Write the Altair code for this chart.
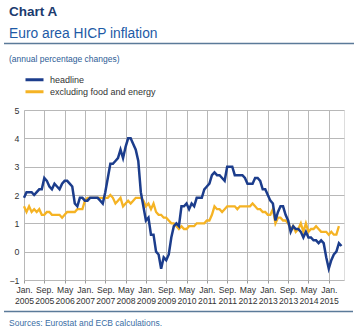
import altair as alt
import pandas as pd

# Monthly values, Jan 2005 onwards
headline = [
    1.9, 2.1, 2.1, 2.1, 2.0, 2.1, 2.2, 2.2, 2.6, 2.5, 2.3, 2.2,   # 2005
    2.4, 2.3, 2.2, 2.4, 2.5, 2.5, 2.4, 2.3, 1.7, 1.6, 1.9, 1.9,   # 2006
    1.8, 1.8, 1.9, 1.9, 1.9, 1.9, 1.8, 1.7, 2.1, 2.6, 3.1, 3.1,   # 2007
    3.2, 3.3, 3.6, 3.3, 3.7, 4.0, 4.0, 3.8, 3.6, 3.2, 2.1, 1.6,   # 2008
    1.1, 1.2, 0.6, 0.6, 0.0, -0.1, -0.6, -0.2, -0.3, -0.1, 0.5, 0.9,  # 2009
    1.0, 0.9, 1.6, 1.6, 1.7, 1.5, 1.7, 1.6, 1.9, 1.9, 1.9, 2.2,   # 2010
    2.3, 2.4, 2.7, 2.8, 2.7, 2.7, 2.6, 2.5, 3.0, 3.0, 3.0, 2.7,   # 2011
    2.7, 2.7, 2.7, 2.6, 2.4, 2.4, 2.4, 2.6, 2.6, 2.5, 2.2, 2.2,   # 2012
    2.0, 1.8, 1.7, 1.1, 1.4, 1.6, 1.6, 1.3, 1.1, 0.7, 0.9, 0.8,   # 2013
    0.8, 0.7, 0.5, 0.7, 0.5, 0.5, 0.4, 0.4, 0.3, 0.4, 0.3, -0.2,  # 2014
    -0.6, -0.3, -0.1, 0.0, 0.3, 0.2,                              # 2015
]
core = [
    1.6, 1.4, 1.6, 1.4, 1.5, 1.4, 1.5, 1.3, 1.3, 1.4, 1.4, 1.3,   # 2005
    1.3, 1.3, 1.3, 1.2, 1.3, 1.4, 1.4, 1.4, 1.4, 1.5, 1.5, 1.5,   # 2006
    1.8, 1.9, 1.9, 1.9, 1.9, 1.9, 1.9, 1.9, 1.9, 1.9, 2.0, 1.9,   # 2007
    1.7, 1.8, 1.9, 1.6, 1.7, 1.8, 1.7, 1.8, 1.9, 1.9, 1.9, 1.8,   # 2008
    1.6, 1.7, 1.5, 1.7, 1.4, 1.3, 1.3, 1.2, 1.2, 1.1, 1.0, 1.0,   # 2009
    0.9, 0.8, 0.9, 0.8, 0.8, 0.9, 0.9, 0.9, 1.0, 1.0, 1.0, 1.0,   # 2010
    1.1, 1.1, 1.3, 1.6, 1.5, 1.5, 1.4, 1.5, 1.6, 1.6, 1.6, 1.6,   # 2011
    1.5, 1.6, 1.6, 1.6, 1.6, 1.6, 1.7, 1.6, 1.5, 1.5, 1.4, 1.4,   # 2012
    1.3, 1.3, 1.5, 1.0, 1.2, 1.2, 1.1, 1.1, 1.0, 0.8, 0.9, 0.7,   # 2013
    0.8, 1.0, 0.7, 1.0, 0.7, 0.8, 0.8, 0.9, 0.8, 0.7, 0.7, 0.7,   # 2014
    0.6, 0.7, 0.6, 0.6, 0.9,                                      # 2015
]
series_names = ["headline", "excluding food and energy"]
series_colors = ["#1c3d8c", "#f5b324"]
x_ticks = list(range(0, 121, 8))       # month index: Jan. 2005, Sep. 2005, ...
y_ticks = [-1, 0, 1, 2, 3, 4, 5]
x_domain = [0, 126]
y_domain = [-1, 5]

title_text = "Chart A"
subtitle_text = "Euro area HICP inflation"
unit_text = "(annual percentage changes)"
source_text = "Sources: Eurostat and ECB calculations."

df_head = pd.DataFrame({"m": list(range(len(headline))), "v": headline, "s": series_names[0]})
df_core = pd.DataFrame({"m": list(range(len(core))), "v": core, "s": series_names[1]})

FONT = "Liberation Sans"
W, H = 320, 170

label_expr = ("[datum.value % 12 == 0 ? 'Jan.' : (datum.value % 12 == 8 ? 'Sep.' : 'May'), "
              "'' + (2005 + floor(datum.value / 12))]")

x_enc = alt.X("m:Q", scale=alt.Scale(domain=x_domain, nice=False, zero=False),
              axis=alt.Axis(values=x_ticks, title=None, labelExpr=label_expr,
                            labelFontSize=8.6, labelColor="#333333", labelFont=FONT,
                            labelLineHeight=11, labelBaseline="top", labelPadding=2,
                            tickSize=3, tickColor="#999999", domain=False,
                            grid=True, gridColor="#b8b8b8", labelFlush=False,
                            labelOverlap=False))
y_enc = alt.Y("v:Q", scale=alt.Scale(domain=y_domain, nice=False, zero=False),
              axis=alt.Axis(values=y_ticks, title=None, labelFontSize=8.8,
                            labelColor="#333333", labelFont=FONT, ticks=False,
                            labelPadding=5, domain=False, grid=True,
                            gridColor="#b8b8b8"))
color_enc = alt.Color("s:N", scale=alt.Scale(domain=series_names, range=series_colors),
                      legend=alt.Legend(title=None, orient="none", legendX=0, legendY=-36,
                                        direction="vertical",
                                        symbolType="stroke", symbolSize=324,
                                        symbolStrokeWidth=3, labelFontSize=9,
                                        labelFont=FONT, labelColor="#333333",
                                        labelOffset=5, rowPadding=0, padding=0,
                                        clipHeight=11.7))

core_line = alt.Chart(df_core).mark_line(strokeWidth=2.3).encode(x=x_enc, y=y_enc, color=color_enc)
head_line = alt.Chart(df_head).mark_line(strokeWidth=2.5).encode(x=x_enc, y=y_enc, color=color_enc)

texts = pd.DataFrame({
    "t": [title_text, subtitle_text, unit_text, source_text],
})
t1 = alt.Chart(texts.iloc[[0]]).mark_text(align="left", baseline="alphabetic", font=FONT,
                                          fontSize=13.5, fontWeight="bold", color="#1b3a6e").encode(
    text="t:N", x=alt.value(-15), y=alt.value(-94))
t2 = alt.Chart(texts.iloc[[1]]).mark_text(align="left", baseline="alphabetic", font=FONT,
                                          fontSize=13.8, color="#1d5aa6").encode(
    text="t:N", x=alt.value(-15), y=alt.value(-72.5))
t3 = alt.Chart(texts.iloc[[2]]).mark_text(align="left", baseline="alphabetic", font=FONT,
                                          fontSize=8.5, color="#2d5c96").encode(
    text="t:N", x=alt.value(-15), y=alt.value(-48))
t4 = alt.Chart(texts.iloc[[3]]).mark_text(align="left", baseline="alphabetic", font=FONT,
                                          fontSize=8.5, color="#3a6ea5").encode(
    text="t:N", x=alt.value(-15), y=alt.value(216))
r1 = alt.Chart(texts.iloc[[0]]).mark_rule(color="#5b7a99", strokeWidth=1.5).encode(
    x=alt.value(-20), x2=alt.value(330), y=alt.value(-66.5))
r2 = alt.Chart(texts.iloc[[0]]).mark_rule(color="#5b7a99", strokeWidth=1.5).encode(
    x=alt.value(-20), x2=alt.value(329), y=alt.value(201.5))

chart = alt.layer(core_line, head_line, t1, t2, t3, t4, r1, r2).properties(
    width=W, height=H,
    padding={"left": 24, "top": 110, "right": 19, "bottom": 56},
    autosize=alt.AutoSizeParams(type="none"),
    background="white",
).configure_view(stroke="#b8b8b8", strokeWidth=1).configure(font=FONT)

chart.save("out.html", embed_options={"renderer": "svg", "actions": False})
